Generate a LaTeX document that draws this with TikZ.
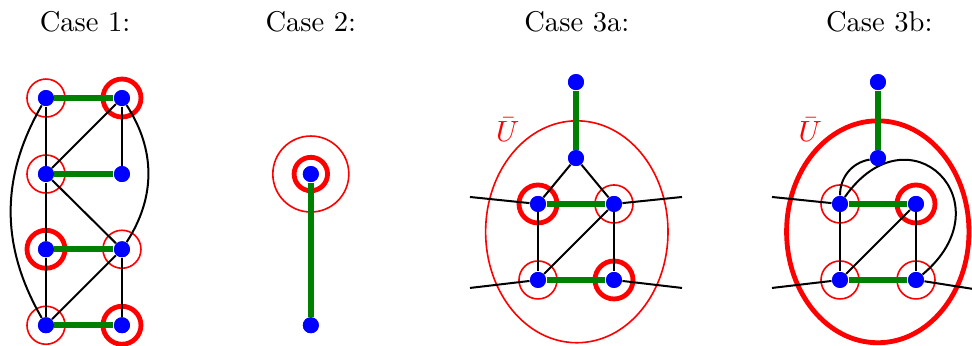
\documentclass[tikz,border=0pt]{standalone}
\usepackage{amsmath}
\usepackage{xcolor}
\usepackage{tikz}
\usetikzlibrary{positioning}

\definecolor{vblue}{RGB}{0,0,255}
\definecolor{egreen}{RGB}{0,128,0}

\begin{document}
\begin{tikzpicture}[
  every node/.style={font=\fontsize{10.7}{13}\selectfont},
  vtx/.style={circle, fill=vblue, inner sep=0pt, minimum size=2.1mm},
  title/.style={anchor=center},
  match/.style={draw=egreen, line width=2.3pt},
  edge/.style={draw=black, line width=0.75pt},
  thin ring/.style={draw=red, line width=0.6pt},
  thick ring/.style={draw=red, line width=1.8pt},
]
  \useasboundingbox (0,0) rectangle (12.79,-4.54);

  % titles
  \node[title] (t1) at (1.12,-0.29) {Case 1:};
  \node[title] (t2) at (4.09,-0.29) {Case 2:};
  \node[title] (t3) at (7.59,-0.29) {Case 3a:};
  \node[title] (t4) at (11.57,-0.29) {Case 3b:};

  % case 1
  \node[vtx] (a1) at (0.605,-1.29) {};
  \node[vtx] (b1) at (1.605,-1.29) {};
  \node[vtx] (a2) at (0.605,-2.29) {};
  \node[vtx] (b2) at (1.605,-2.29) {};
  \node[vtx] (a3) at (0.605,-3.28) {};
  \node[vtx] (b3) at (1.605,-3.28) {};
  \node[vtx] (a4) at (0.605,-4.28) {};
  \node[vtx] (b4) at (1.605,-4.28) {};

  \draw[thin ring]  (a1) circle (0.25);
  \draw[thick ring] (b1) circle (0.25);
  \draw[thin ring]  (a2) circle (0.25);
  \draw[thick ring] (a3) circle (0.25);
  \draw[thin ring]  (b3) circle (0.25);
  \draw[thin ring]  (a4) circle (0.25);
  \draw[thick ring] (b4) circle (0.25);

  \draw[edge] (a1) -- (a2) -- (a3) -- (a4);
  \draw[edge] (b1) -- (b2);
  \draw[edge] (b3) -- (b4);
  \draw[edge] (b1) -- (a2);
  \draw[edge] (a2) -- (b3);
  \draw[edge] (b3) -- (a4);
  \draw[edge] (a1) to[bend right=30] (a4);
  \draw[edge] (b1) to[bend left=33] (b3);
  \draw[match] (a1) -- (b1);
  \draw[match] (a2) -- (b2);
  \draw[match] (a3) -- (b3);
  \draw[match] (a4) -- (b4);
  \foreach \v in {a1,b1,a2,b2,a3,b3,a4,b4}
    \node[vtx] at (\v) {};

  % case 2
  \node[vtx] (c1) at (4.09,-2.29) {};
  \node[vtx] (c2) at (4.09,-4.28) {};
  \draw[thick ring] (c1) circle (0.22);
  \draw[thin ring]  (c1) circle (0.5);
  \draw[match] (c1) -- (c2);
  \node[vtx] at (c1) {};
  \node[vtx] at (c2) {};

  % case 3a
  \node[vtx] (p0) at (7.579,-1.08) {};
  \node[vtx] (p1) at (7.579,-2.08) {};
  \node[vtx] (p2) at (7.079,-2.684) {};
  \node[vtx] (p3) at (8.079,-2.684) {};
  \node[vtx] (p4) at (7.079,-3.684) {};
  \node[vtx] (p5) at (8.079,-3.684) {};
  \coordinate (pl1) at (6.184,-2.592);
  \coordinate (pr1) at (8.974,-2.592);
  \coordinate (pl2) at (6.184,-3.789);
  \coordinate (pr2) at (8.974,-3.789);

  \draw[thin ring] (7.59,-3.05) ellipse (1.2 and 1.46);
  \node[text=red] (u1) at (6.68,-1.71) {$\bar{U}$};
  \draw[thick ring] (p2) circle (0.25);
  \draw[thin ring]  (p3) circle (0.25);
  \draw[thin ring]  (p4) circle (0.25);
  \draw[thick ring] (p5) circle (0.25);

  \draw[edge] (p1) -- (p2);
  \draw[edge] (p1) -- (p3);
  \draw[edge] (p2) -- (p4);
  \draw[edge] (p3) -- (p5);
  \draw[edge] (p3) -- (p4);
  \draw[edge] (p2) -- (pl1);
  \draw[edge] (p3) -- (pr1);
  \draw[edge] (p4) -- (pl2);
  \draw[edge] (p5) -- (pr2);
  \draw[match] (p0) -- (p1);
  \draw[match] (p2) -- (p3);
  \draw[match] (p4) -- (p5);
  \foreach \v in {p0,p1,p2,p3,p4,p5}
    \node[vtx] at (\v) {};

  % case 3b
  \node[vtx] (q0) at (11.553,-1.08) {};
  \node[vtx] (q1) at (11.553,-2.08) {};
  \node[vtx] (q2) at (11.053,-2.684) {};
  \node[vtx] (q3) at (12.053,-2.684) {};
  \node[vtx] (q4) at (11.053,-3.684) {};
  \node[vtx] (q5) at (12.053,-3.684) {};
  \coordinate (ql1) at (10.158,-2.592);
  \coordinate (ql2) at (10.158,-3.789);
  \coordinate (qr2) at (12.79,-3.80);

  \draw[thick ring] (11.55,-3.05) ellipse (1.2 and 1.46);
  \node[text=red] (u2) at (10.66,-1.71) {$\bar{U}$};
  \draw[thin ring]  (q2) circle (0.25);
  \draw[thick ring] (q3) circle (0.25);
  \draw[thin ring]  (q4) circle (0.25);
  \draw[thin ring]  (q5) circle (0.25);

  \draw[edge] (q1) to[out=190, in=90] (q2);
  \draw[edge] (q2) to[out=55, in=40, looseness=2.6] (q5);
  \draw[edge] (q2) -- (q4);
  \draw[edge] (q3) -- (q5);
  \draw[edge] (q3) -- (q4);
  \draw[edge] (q2) -- (ql1);
  \draw[edge] (q4) -- (ql2);
  \draw[edge] (q5) -- (qr2);
  \draw[match] (q0) -- (q1);
  \draw[match] (q2) -- (q3);
  \draw[match] (q4) -- (q5);
  \foreach \v in {q0,q1,q2,q3,q4,q5}
    \node[vtx] at (\v) {};
\end{tikzpicture}
\end{document}
